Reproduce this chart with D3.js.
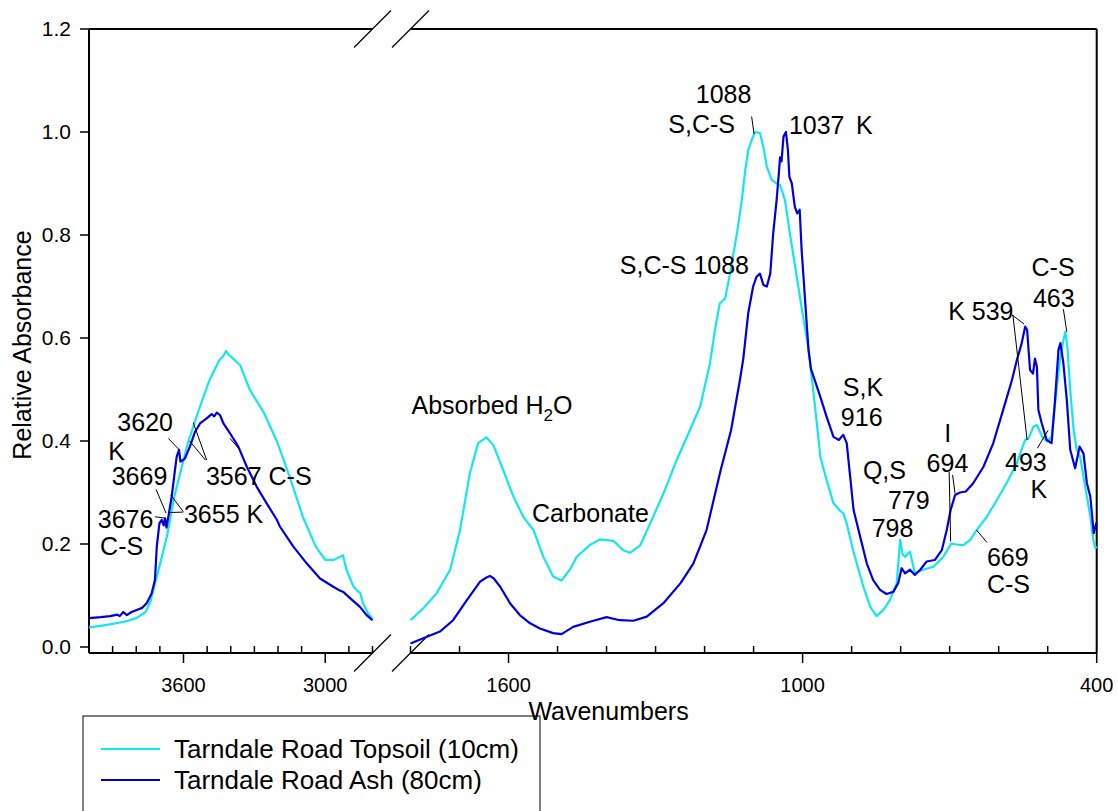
<!DOCTYPE html>
<html>
<head>
<meta charset="utf-8">
<script src="https://cdn.jsdelivr.net/npm/d3@7"></script>
<style>
  body { margin: 0; background: #fff; }
  svg { display: block; font-family: "Liberation Sans", Arial, sans-serif; }
</style>
</head>
<body>
<div id="chart"></div>
<script>
const WIDTH = 1118;
const HEIGHT = 811;
const TOP = 29;
const AXIS_Y = 653;
const LEFT = 89;
const RIGHT = 1096.7;
const LEFT_END = 372.5;
const RIGHT_START = 410.5;
const CYAN = '#12e6ee';
const BLUE = '#0000dc';
const LABEL_SIZE = 25;

// [wavenumber, relative absorbance]
const topsoilHigh = [
  [4000,0.038],[3950,0.041],[3900,0.045],[3850,0.049],[3800,0.056],[3760,0.068],[3740,0.088],
  [3720,0.125],[3700,0.160],[3670,0.215],[3640,0.290],[3610,0.345],[3580,0.398],[3550,0.440],
  [3530,0.467],[3490,0.518],[3450,0.556],[3430,0.566],[3420,0.575],[3410,0.568],[3390,0.560],
  [3360,0.547],[3320,0.500],[3260,0.455],[3205,0.400],[3150,0.330],[3095,0.253],[3040,0.195],
  [3000,0.169],[2965,0.169],[2938,0.175],[2925,0.178],[2910,0.150],[2880,0.117],[2862,0.108],
  [2852,0.105],[2840,0.085],[2818,0.065],[2800,0.054]
];
const ashHigh = [
  [4000,0.056],[3950,0.058],[3911,0.060],[3880,0.063],[3870,0.060],[3855,0.068],[3840,0.062],
  [3820,0.068],[3798,0.072],[3775,0.076],[3756,0.085],[3735,0.104],[3721,0.130],[3713,0.195],
  [3702,0.240],[3692,0.247],[3684,0.236],[3678,0.250],[3672,0.232],[3664,0.253],[3650,0.292],
  [3636,0.344],[3629,0.369],[3619,0.383],[3613,0.360],[3605,0.362],[3594,0.366],[3573,0.389],
  [3551,0.418],[3530,0.434],[3502,0.444],[3481,0.452],[3470,0.448],[3459,0.455],[3445,0.450],
  [3431,0.434],[3403,0.415],[3368,0.389],[3332,0.350],[3290,0.311],[3248,0.279],[3205,0.247],
  [3192,0.234],[3135,0.195],[3078,0.162],[3022,0.133],[2966,0.117],[2940,0.110],[2924,0.107],
  [2895,0.095],[2853,0.078],[2825,0.062],[2800,0.052]
];
const topsoilLow = [
  [1800,0.052],[1774,0.075],[1747,0.104],[1719,0.150],[1699,0.227],[1679,0.337],[1662,0.396],
  [1645,0.407],[1631,0.392],[1611,0.344],[1590,0.292],[1570,0.253],[1549,0.227],[1529,0.175],
  [1509,0.137],[1492,0.129],[1475,0.150],[1461,0.175],[1434,0.198],[1413,0.209],[1386,0.206],
  [1366,0.188],[1352,0.183],[1331,0.198],[1311,0.240],[1284,0.298],[1257,0.363],[1230,0.421],
  [1209,0.467],[1189,0.551],[1179,0.615],[1169,0.667],[1158,0.677],[1148,0.726],[1134,0.803],
  [1124,0.868],[1117,0.926],[1111,0.965],[1104,0.984],[1097,1.0],[1087,0.998],[1080,0.971],
  [1073,0.933],[1063,0.907],[1053,0.900],[1046,0.897],[1036,0.868],[1026,0.803],[1012,0.719],
  [999,0.641],[988,0.580],[975,0.470],[964,0.370],[951,0.324],[937,0.279],[924,0.265],
  [917,0.260],[910,0.240],[897,0.188],[876,0.117],[862,0.078],[849,0.060],[835,0.072],
  [822,0.091],[808,0.124],[801,0.208],[796,0.180],[791,0.175],[781,0.185],[771,0.143],
  [754,0.150],[733,0.156],[713,0.175],[697,0.201],[686,0.199],[672,0.198],[658,0.208],
  [645,0.227],[624,0.253],[604,0.285],[584,0.318],[563,0.357],[546,0.402],[539,0.405],
  [529,0.428],[522,0.431],[511,0.408],[502,0.399],[492,0.408],[482,0.499],[475,0.557],
  [468,0.595],[464,0.612],[460,0.585],[454,0.499],[447,0.421],[441,0.383],[434,0.370],
  [427,0.331],[420,0.292],[413,0.253],[407,0.208],[403,0.192],[400,0.195]
];
const ashLow = [
  [1800,0.007],[1774,0.017],[1740,0.030],[1713,0.052],[1685,0.091],[1658,0.127],[1645,0.135],
  [1638,0.138],[1630,0.133],[1617,0.117],[1597,0.085],[1577,0.062],[1556,0.046],[1536,0.036],
  [1509,0.027],[1492,0.025],[1468,0.039],[1434,0.049],[1400,0.058],[1373,0.052],[1345,0.051],
  [1318,0.059],[1284,0.085],[1249,0.124],[1223,0.162],[1196,0.227],[1167,0.344],[1146,0.421],
  [1128,0.518],[1121,0.560],[1111,0.648],[1101,0.700],[1094,0.719],[1087,0.725],[1080,0.703],
  [1073,0.700],[1066,0.725],[1060,0.803],[1053,0.868],[1048,0.926],[1046,0.951],[1043,0.943],
  [1039,0.991],[1034,1.0],[1030,0.965],[1027,0.913],[1022,0.900],[1016,0.855],[1011,0.842],
  [1006,0.849],[1002,0.771],[995,0.674],[988,0.577],[983,0.540],[964,0.486],[951,0.447],
  [937,0.408],[926,0.402],[917,0.412],[910,0.396],[903,0.331],[896,0.266],[881,0.208],
  [869,0.162],[856,0.130],[842,0.111],[829,0.103],[815,0.107],[805,0.124],[798,0.153],
  [791,0.143],[781,0.150],[771,0.140],[760,0.150],[747,0.166],[730,0.169],[716,0.188],
  [706,0.227],[698,0.266],[689,0.295],[679,0.300],[667,0.302],[652,0.318],[631,0.350],
  [611,0.396],[591,0.460],[573,0.518],[563,0.557],[553,0.590],[546,0.622],[542,0.616],
  [536,0.538],[530,0.531],[526,0.560],[522,0.544],[519,0.460],[512,0.434],[502,0.402],
  [492,0.396],[485,0.480],[478,0.577],[474,0.590],[468,0.551],[461,0.480],[454,0.383],
  [444,0.347],[435,0.389],[427,0.376],[420,0.318],[413,0.292],[406,0.221],[401,0.240],[400,0.235]
];

const yTicks = [0.0, 0.2, 0.4, 0.6, 0.8, 1.0, 1.2];
const highMajor = [3600, 3000];
const highMinor = [3900, 3800, 3700, 3500, 3400, 3300, 3200, 3100, 2900, 2800];
const lowMajor = [1600, 1000, 400];
const lowMinor = [1800, 1700, 1500, 1400, 1300, 1200, 1100, 900, 800, 700, 600, 500];

const seriesNames = ['Tarndale Road Topsoil (10cm)', 'Tarndale Road Ash (80cm)'];

// peak labels: segment, wavenumber, absorbance (left edge / middle of text)
const labels = [
  {seg: 'h', w: 3880, a: 0.436, text: '3620'},
  {seg: 'h', w: 3918, a: 0.381, text: 'K'},
  {seg: 'h', w: 3904, a: 0.331, text: '3669'},
  {seg: 'h', w: 3963, a: 0.248, text: '3676'},
  {seg: 'h', w: 3953, a: 0.195, text: 'C-S'},
  {seg: 'h', w: 3598, a: 0.258, text: '3655 K'},
  {seg: 'h', w: 3505, a: 0.331, text: '3567 C-S'},
  {seg: 'l', w: 1218, a: 1.073, text: '1088'},
  {seg: 'l', w: 1274, a: 1.016, text: 'S,C-S'},
  {seg: 'l', w: 1028, a: 1.014, text: '1037'},
  {seg: 'l', w: 891, a: 1.014, text: 'K'},
  {seg: 'l', w: 1373, a: 0.742, text: 'S,C-S 1088'},
  {seg: 'l', w: 1552, a: 0.260, text: 'Carbonate'},
  {seg: 'l', w: 918, a: 0.505, text: 'S,K'},
  {seg: 'l', w: 922, a: 0.447, text: '916'},
  {seg: 'l', w: 877, a: 0.344, text: 'Q,S'},
  {seg: 'l', w: 826, a: 0.285, text: '779'},
  {seg: 'l', w: 859, a: 0.231, text: '798'},
  {seg: 'l', w: 711, a: 0.416, text: 'I'},
  {seg: 'l', w: 747, a: 0.357, text: '694'},
  {seg: 'l', w: 624, a: 0.174, text: '669'},
  {seg: 'l', w: 624, a: 0.122, text: 'C-S'},
  {seg: 'l', w: 703, a: 0.651, text: 'K 539'},
  {seg: 'l', w: 533, a: 0.737, text: 'C-S'},
  {seg: 'l', w: 530, a: 0.677, text: '463'},
  {seg: 'l', w: 587, a: 0.359, text: '493'},
  {seg: 'l', w: 535, a: 0.306, text: 'K'}
];
const waterLabel = {seg: 'l', w: 1798, a: 0.470};

// leader lines [seg, w1, a1, w2, a2]
const leaders = [
  ['h', 3664, 0.405, 3618, 0.383],
  ['h', 3716, 0.306, 3674, 0.260],
  ['h', 3721, 0.253, 3678, 0.250],
  ['h', 3601, 0.263, 3654, 0.295],
  ['h', 3601, 0.262, 3664, 0.261],
  ['h', 3502, 0.363, 3559, 0.436],
  ['h', 3507, 0.363, 3574, 0.400],
  ['h', 3403, 0.405, 3364, 0.384],
  ['l', 1104, 1.030, 1099, 0.996],
  ['l', 701, 0.340, 698, 0.205],
  ['l', 694, 0.334, 689, 0.298],
  ['l', 645, 0.227, 624, 0.203],
  ['l', 573, 0.645, 548, 0.627],
  ['l', 571, 0.645, 542, 0.402],
  ['l', 468, 0.656, 461, 0.612],
  ['l', 521, 0.386, 499, 0.421]
];

const xHigh = d3.scaleLinear().domain([4000, 2800]).range([LEFT, LEFT_END]);
const xLow = d3.scaleLinear().domain([1800, 400]).range([RIGHT_START, RIGHT]);
const y = d3.scaleLinear().domain([0, 1.2]).range([647, TOP]);
const xOf = (seg) => seg === 'h' ? xHigh : xLow;

const svg = d3.select('#chart').append('svg')
  .attr('width', WIDTH)
  .attr('height', HEIGHT);

function drawFrame() {
  let g = svg.append('g').attr('class', 'frame')
    .attr('stroke', '#000').attr('fill', 'none');

  let segs = [
    [LEFT, TOP, LEFT, AXIS_Y],
    [LEFT, TOP, LEFT_END, TOP],
    [RIGHT_START, TOP, RIGHT, TOP],
    [LEFT, AXIS_Y, LEFT_END, AXIS_Y],
    [RIGHT_START, AXIS_Y, RIGHT, AXIS_Y],
    [RIGHT, TOP, RIGHT, AXIS_Y]
  ];
  g.selectAll('line.edge')
    .data(segs)
    .enter()
    .append('line')
    .attr('class', 'edge')
    .attr('x1', (d) => d[0]).attr('y1', (d) => d[1])
    .attr('x2', (d) => d[2]).attr('y2', (d) => d[3])
    .attr('stroke-width', 2);

  // axis break marks
  let breaks = [];
  [xHigh(2800), xLow(1800)].forEach((cx) => {
    [TOP, AXIS_Y].forEach((cy) => breaks.push([cx, cy]));
  });
  g.selectAll('line.brk')
    .data(breaks)
    .enter()
    .append('line')
    .attr('class', 'brk')
    .attr('x1', (d) => d[0] - 18.5).attr('y1', (d) => d[1] + 18.5)
    .attr('x2', (d) => d[0] + 18.5).attr('y2', (d) => d[1] - 18.5)
    .attr('stroke-width', 1.2);
}

function drawAxes() {
  let g = svg.append('g').attr('class', 'axes');

  // y axis
  g.selectAll('line.ytick')
    .data(yTicks)
    .enter()
    .append('line')
    .attr('class', 'ytick')
    .attr('x1', LEFT - 9).attr('x2', LEFT)
    .attr('y1', (d) => y(d)).attr('y2', (d) => y(d))
    .attr('stroke', '#000').attr('stroke-width', 1.5);
  g.selectAll('text.ylab')
    .data(yTicks)
    .enter()
    .append('text')
    .attr('class', 'ylab')
    .attr('x', LEFT - 18)
    .attr('y', (d) => y(d))
    .attr('dy', '0.35em')
    .attr('text-anchor', 'end')
    .attr('font-size', 21)
    .text((d) => d3.format('.1f')(d));

  // x axes, two segments
  let minor = highMinor.map((w) => xHigh(w)).concat(lowMinor.map((w) => xLow(w)));
  let major = highMajor.map((w) => ({w, x: xHigh(w)})).concat(lowMajor.map((w) => ({w, x: xLow(w)})));

  g.selectAll('line.minor')
    .data(minor)
    .enter()
    .append('line')
    .attr('class', 'minor')
    .attr('x1', (d) => d).attr('x2', (d) => d)
    .attr('y1', AXIS_Y - 7).attr('y2', AXIS_Y)
    .attr('stroke', '#000').attr('stroke-width', 1.5);
  g.selectAll('line.major')
    .data(major)
    .enter()
    .append('line')
    .attr('class', 'major')
    .attr('x1', (d) => d.x).attr('x2', (d) => d.x)
    .attr('y1', AXIS_Y).attr('y2', AXIS_Y + 10)
    .attr('stroke', '#000').attr('stroke-width', 1.5);
  g.selectAll('text.xlab')
    .data(major)
    .enter()
    .append('text')
    .attr('class', 'xlab')
    .attr('x', (d) => d.x)
    .attr('y', AXIS_Y + 32)
    .attr('dy', '0.35em')
    .attr('text-anchor', 'middle')
    .attr('font-size', 20)
    .text((d) => d.w);

  g.append('text')
    .attr('transform', 'translate(22,' + ((TOP + AXIS_Y) / 2 + 4) + ') rotate(-90)')
    .attr('text-anchor', 'middle')
    .attr('dy', '0.35em')
    .attr('font-size', LABEL_SIZE)
    .text('Relative Absorbance');
}

function drawSpectra() {
  let g = svg.append('g').attr('class', 'spectra').attr('fill', 'none');
  let parts = [
    {data: topsoilHigh, x: xHigh, color: CYAN},
    {data: topsoilLow, x: xLow, color: CYAN},
    {data: ashHigh, x: xHigh, color: BLUE},
    {data: ashLow, x: xLow, color: BLUE}
  ];
  parts.forEach((p) => {
    let line = d3.line().x((d) => p.x(d[0])).y((d) => y(d[1]));
    g.append('path')
      .attr('d', line(p.data))
      .attr('stroke', p.color)
      .attr('stroke-width', 2.2)
      .attr('stroke-linejoin', 'round');
  });
}

function drawLabels() {
  let g = svg.append('g').attr('class', 'labels');
  g.selectAll('line')
    .data(leaders)
    .enter()
    .append('line')
    .attr('x1', (d) => xOf(d[0])(d[1])).attr('y1', (d) => y(d[2]))
    .attr('x2', (d) => xOf(d[0])(d[3])).attr('y2', (d) => y(d[4]))
    .attr('stroke', '#000').attr('stroke-width', 1);

  g.selectAll('text.peak')
    .data(labels)
    .enter()
    .append('text')
    .attr('class', 'peak')
    .attr('x', (d) => xOf(d.seg)(d.w))
    .attr('y', (d) => y(d.a))
    .attr('dy', '0.35em')
    .attr('font-size', LABEL_SIZE)
    .text((d) => d.text);

  let water = g.append('text')
    .attr('x', xOf(waterLabel.seg)(waterLabel.w))
    .attr('y', y(waterLabel.a))
    .attr('dy', '0.35em')
    .attr('font-size', LABEL_SIZE);
  water.append('tspan').text('Absorbed H');
  water.append('tspan').attr('font-size', 17).attr('dy', 7).text('2');
  water.append('tspan').attr('dy', -7).text('O');
}

function drawLegend() {
  let g = svg.append('g').attr('class', 'legend');
  g.append('rect')
    .attr('x', 83).attr('y', 716)
    .attr('width', 457).attr('height', 130)
    .attr('fill', '#fff').attr('stroke', '#000').attr('stroke-width', 1);
  let rows = g.selectAll('g.row')
    .data(seriesNames)
    .enter()
    .append('g')
    .attr('class', 'row')
    .attr('transform', (d, i) => 'translate(0,' + (749 + i * 31) + ')');
  rows.append('line')
    .attr('x1', 101).attr('x2', 160)
    .attr('stroke', (d, i) => i === 0 ? CYAN : BLUE)
    .attr('stroke-width', 2);
  rows.append('text')
    .attr('x', 174)
    .attr('dy', '0.35em')
    .attr('font-size', 26)
    .text((d) => d);

  svg.append('text')
    .attr('x', xLow(1600) + 100)
    .attr('y', 711)
    .attr('dy', '0.35em')
    .attr('text-anchor', 'middle')
    .attr('font-size', LABEL_SIZE)
    .text('Wavenumbers');
}

drawFrame();
drawSpectra();
drawAxes();
drawLabels();
drawLegend();
</script>
</body>
</html>
